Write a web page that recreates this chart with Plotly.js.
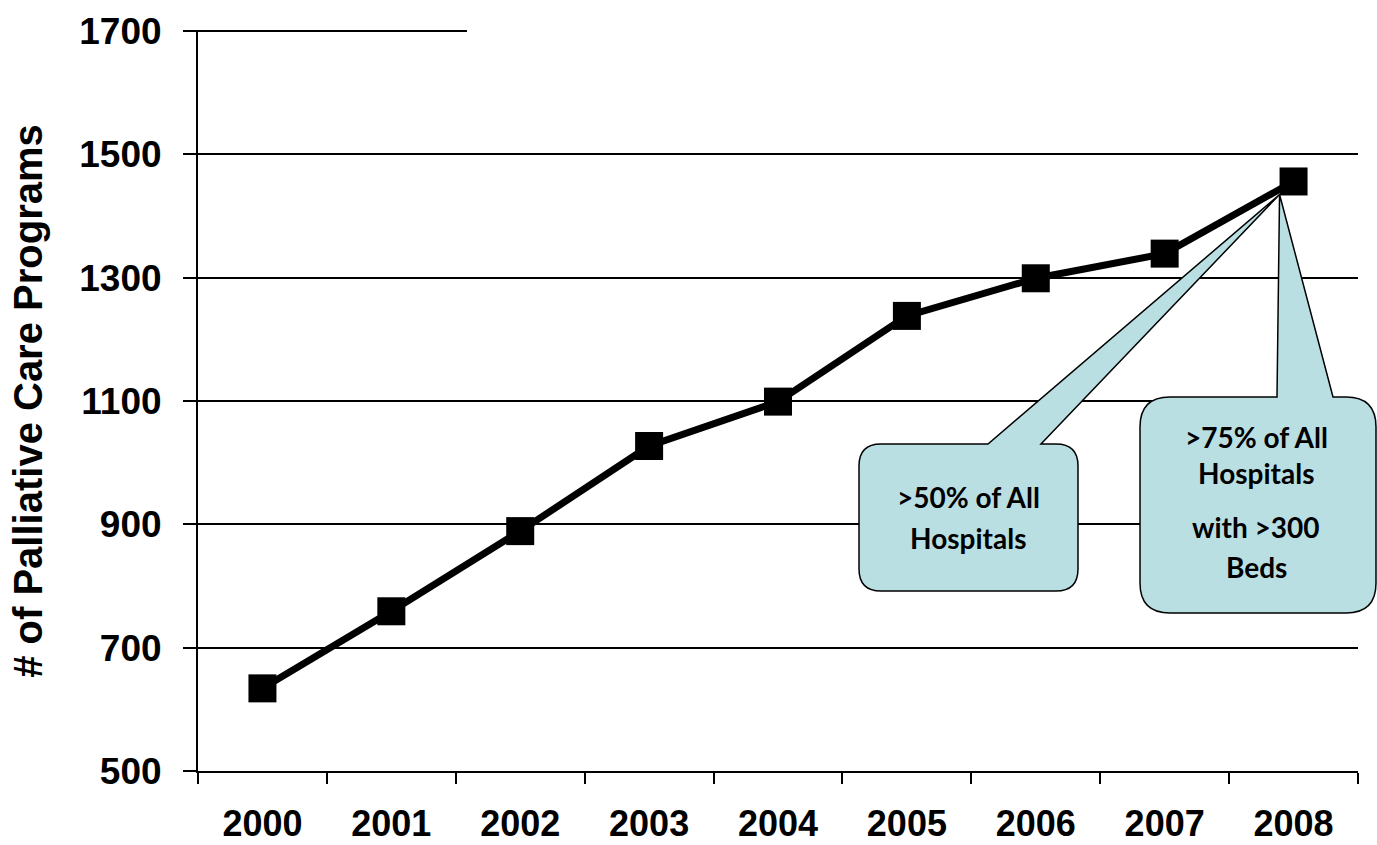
<!DOCTYPE html>
<html>
<head>
<meta charset="utf-8">
<script src="https://cdn.plot.ly/plotly-3.0.1.min.js"></script>
<style>
  html, body { margin: 0; padding: 0; background: #ffffff; }
  #chart { width: 1377px; height: 845px; }
</style>
</head>
<body>
<div id="chart"></div>
<script>
// Palliative care programs in US hospitals, 2000-2008
const years = ['2000', '2001', '2002', '2003', '2004', '2005', '2006', '2007', '2008'];
const programs = [634, 759, 889, 1027, 1099, 1238, 1299, 1339, 1456];
const yTicks = [500, 700, 900, 1100, 1300, 1500, 1700];
const calloutLeft = ['>50% of All', 'Hospitals'];
const calloutRight = ['>75% of All', 'Hospitals', 'with >300', 'Beds'];

const W = 1377, H = 845;
const M = { l: 198, r: 19, t: 31, b: 74 };
const PW = W - M.l - M.r, PH = H - M.t - M.b;
const yMin = 500, yMax = 1700;

// pixel (page) -> paper fraction
const px = X => (X - M.l) / PW;
const py = Y => (M.t + PH - Y) / PH;
// data -> page pixel
const catX = i => M.l + (i + 0.5) * PW / years.length;
const valY = v => M.t + PH - (v - yMin) / (yMax - yMin) * PH;

// Rounded speech-bubble outline with a pointer notch on its top edge
function bubble(x0, y0, x1, y1, r, n0, n1, tx, ty) {
  const P = (X, Y) => px(X).toFixed(5) + ',' + py(Y).toFixed(5);
  return 'M' + P(x0 + r, y0) +
    ' L' + P(n0, y0) + ' L' + P(tx, ty) + ' L' + P(n1, y0) +
    ' L' + P(x1 - r, y0) + ' Q' + P(x1, y0) + ' ' + P(x1, y0 + r) +
    ' L' + P(x1, y1 - r) + ' Q' + P(x1, y1) + ' ' + P(x1 - r, y1) +
    ' L' + P(x0 + r, y1) + ' Q' + P(x0, y1) + ' ' + P(x0, y1 - r) +
    ' L' + P(x0, y0 + r) + ' Q' + P(x0, y0) + ' ' + P(x0 + r, y0) + ' Z';
}

const last = years.length - 1;
const tipX = catX(last) - 14, tipY = valY(programs[last]) + 13;

const bubbleStyle = { type: 'path', xref: 'paper', yref: 'paper', layer: 'above',
  fillcolor: '#b9dfe3', line: { color: '#000000', width: 1.5 } };

const shapes = [
  // top gridline only runs part way across
  { type: 'line', xref: 'paper', yref: 'paper', layer: 'below',
    x0: px(185), x1: px(467), y0: 1, y1: 1, line: { color: '#000000', width: 2 } },
  Object.assign({ path: bubble(859, 444, 1078, 591, 22, 988, 1041, tipX, tipY) }, bubbleStyle),
  Object.assign({ path: bubble(1140, 397, 1376, 613, 30, 1277, 1333, tipX, tipY) }, bubbleStyle)
];

const noteFont = { family: 'Lato, "Open Sans", sans-serif', size: 28, color: '#000000', weight: 'bold' };
function note(text, X, Y) {
  return { text: text, xref: 'paper', yref: 'paper', x: px(X), y: py(Y),
    xanchor: 'center', yanchor: 'middle', showarrow: false, font: noteFont };
}
const annotations = [
  note(calloutLeft[0], 968, 497),
  note(calloutLeft[1], 968, 538),
  note(calloutRight[0], 1256, 437),
  note(calloutRight[1], 1256, 473),
  note(calloutRight[2], 1256, 527),
  note(calloutRight[3], 1256, 567)
];

const trace = {
  type: 'scatter', mode: 'lines+markers',
  x: years, y: programs,
  line: { color: '#000000', width: 7 },
  marker: { symbol: 'square', size: 28, color: '#000000' },
  hoverinfo: 'x+y'
};

const axisFont = { family: '"Liberation Sans", Arial, sans-serif', color: '#000000', weight: 'bold' };

const layout = {
  width: W, height: H,
  margin: M,
  paper_bgcolor: '#ffffff', plot_bgcolor: '#ffffff',
  showlegend: false,
  xaxis: {
    type: 'category', range: [-0.5, last + 0.5],
    tickson: 'boundaries', ticks: 'outside', ticklen: 11, tickwidth: 2, tickcolor: '#000000',
    showline: true, linecolor: '#000000', linewidth: 2,
    showgrid: false, zeroline: false,
    tickfont: Object.assign({ size: 36 }, axisFont),
    ticklabelstandoff: 20
  },
  yaxis: {
    range: [yMin, yMax], tickvals: yTicks, ticktext: yTicks.map(String),
    ticks: 'outside', ticklen: 13, tickwidth: 2, tickcolor: '#000000',
    showline: true, linecolor: '#000000', linewidth: 2,
    showgrid: true, gridcolor: '#000000', gridwidth: 2, zeroline: false,
    tickfont: Object.assign({ size: 37 }, axisFont),
    ticklabelstandoff: 14,
    title: { text: '# of Palliative Care Programs', standoff: 24,
      font: Object.assign({ size: 40 }, axisFont) }
  },
  shapes: shapes,
  annotations: annotations
};

Plotly.newPlot('chart', [trace], layout, { displayModeBar: false, staticPlot: true });
</script>
</body>
</html>
